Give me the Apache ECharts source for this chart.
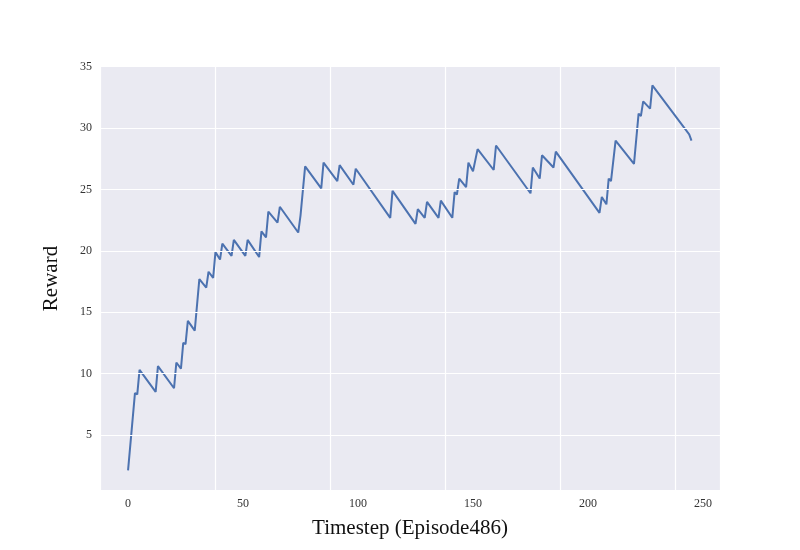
<!DOCTYPE html>
<html>
<head>
<meta charset="utf-8">
<script src="https://cdn.jsdelivr.net/npm/echarts@6/dist/echarts.min.js"></script>
<style>html,body{margin:0;padding:0;background:#fff}#main{width:800px;height:550px}</style>
</head>
<body>
<div id="main"></div>
<script>
// timestep and reward
var steps = [0,3,4,5,12,13,20,21,23,24,25,26,29,31,34,35,37,38,40,41,45,46,51,52,57,58,60,61,65,66,74,75,77,84,85,91,92,98,99,114,115,125,126,129,130,135,136,141,142,143,144,147,148,150,152,159,160,175,176,179,180,185,186,205,206,208,209,210,212,220,222,223,224,227,228,244,245];
var rewards = [2.1,8.4,8.3,10.3,8.5,10.6,8.8,10.9,10.4,12.5,12.4,14.3,13.5,17.7,17.0,18.3,17.8,19.9,19.3,20.6,19.6,20.9,19.6,20.9,19.5,21.6,21.1,23.2,22.3,23.6,21.5,22.9,26.9,25.1,27.2,25.7,27.0,25.4,26.7,22.7,24.9,22.2,23.4,22.7,24.0,22.7,24.1,22.7,24.8,24.6,25.9,25.2,27.2,26.5,28.3,26.6,28.6,24.7,26.8,25.9,27.8,26.8,28.1,23.1,24.4,23.8,25.9,25.7,29.0,27.1,31.2,31.0,32.2,31.6,33.5,29.5,29.0];

var points = steps.map(function(s, i){ return [s, rewards[i]]; });

var chart = echarts.init(document.getElementById('main'));
var font = 'Liberation Serif';
var gridLine = {show:true, lineStyle:{color:'#ffffff', width:1.2}};

chart.setOption({
    animation: false,
    textStyle: {fontFamily: font},
    grid: {left:100, right:80, top:67, bottom:60, show:true, backgroundColor:'#EAEAF2', borderWidth:0},
    xAxis: {
        type:'value', min:-12.2, max:257.4, interval:50,
        name:'Timestep (Episode486)', nameLocation:'middle', nameGap:28,
        nameTextStyle:{fontSize:21, color:'#111', fontFamily:font},
        axisLine:{show:false}, axisTick:{show:false},
        axisLabel:{color:'#333', fontSize:12, fontFamily:font,
            formatter:function(v){ return v % 50 === 0 ? v : ''; },
            customValues:[0,50,100,150,200,250]},
        splitLine:gridLine
    },
    yAxis: {
        type:'value', min:0.5, max:35,
        name:'Reward', nameLocation:'middle', nameGap:38,
        nameTextStyle:{fontSize:21, color:'#111', fontFamily:font},
        axisLine:{show:false}, axisTick:{show:false},
        axisLabel:{color:'#333', fontSize:12, fontFamily:font, customValues:[5,10,15,20,25,30,35]},
        splitLine:{show:false}
    },
    series: [{
        type:'line', data:points, symbol:'none',
        lineStyle:{color:'#4C72B0', width:2},
        markLine:{silent:true, symbol:'none', label:{show:false},
            lineStyle:{color:'#ffffff', width:1.2, type:'solid'},
            data:[{yAxis:5},{yAxis:10},{yAxis:15},{yAxis:20},{yAxis:25},{yAxis:30}]},
        z:3
    }]
});
</script>
</body>
</html>
